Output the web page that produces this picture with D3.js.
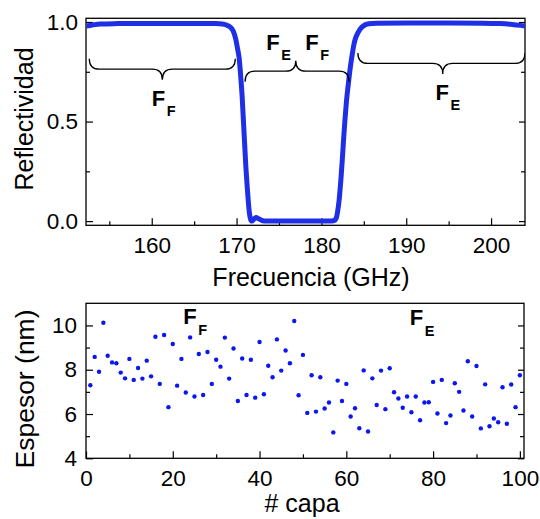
<!DOCTYPE html>
<html>
<head>
<meta charset="utf-8">
<script src="https://cdn.jsdelivr.net/npm/d3@7"></script>
<style>
  html, body { margin: 0; padding: 0; background: #fff; }
  svg { display: block; }
  text { font-family: "Liberation Sans", Arial, sans-serif; fill: #000; }
</style>
</head>
<body>
<svg id="chart" width="540" height="519"></svg>
<script>
// ---------- DATA ----------
// Top panel: reflectivity spectrum
const frequency = [152.3, 153, 154, 156, 158, 160, 162, 164, 166, 167.5, 168.3, 168.8, 169.3, 169.6, 169.9, 170.1, 170.3, 170.5, 170.65, 170.8, 170.96, 171.1, 171.24, 171.4, 171.5, 171.65, 171.8, 172.0, 172.3, 172.6, 173.0, 173.5, 175, 177, 179, 181, 181.5, 181.75, 181.9, 182.1, 182.3, 182.45, 182.6, 182.76, 182.95, 183.15, 183.4, 183.62, 183.8, 184.0, 184.3, 184.6, 185.0, 185.6, 186.5, 190, 195, 199, 201, 202.5, 203.5, 204.0];
const reflectivity = [0.980, 0.985, 0.990, 0.992, 0.993, 0.993, 0.993, 0.993, 0.993, 0.992, 0.990, 0.985, 0.973, 0.955, 0.915, 0.870, 0.820, 0.720, 0.630, 0.510, 0.380, 0.270, 0.180, 0.090, 0.045, 0.010, 0.000, 0.008, 0.018, 0.012, 0.003, 0.000, 0.000, 0.000, 0.000, 0.000, 0.003, 0.015, 0.045, 0.110, 0.210, 0.300, 0.400, 0.500, 0.600, 0.680, 0.770, 0.833, 0.880, 0.916, 0.945, 0.966, 0.982, 0.991, 0.994, 0.995, 0.995, 0.994, 0.992, 0.988, 0.983, 0.980];
const freqTicks = [160, 170, 180, 190, 200];
const freqMinorTicks = [155, 165, 175, 185, 195];
const reflTicks = [0.0, 0.5, 1.0];
const reflMinorTicks = [0.25, 0.75];

// Bottom panel: layer thickness
const layer = [1,2,3,4,5,6,7,8,9,10,11,12,13,14,15,16,17,18,19,20,21,22,23,24,25,26,27,28,29,30,31,32,33,34,35,36,37,38,39,40,41,42,43,44,45,46,47,48,49,50,51,52,53,54,55,56,57,58,59,60,61,62,63,64,65,66,67,68,69,70,71,72,73,74,75,76,77,78,79,80,81,82,83,84,85,86,87,88,89,90,91,92,93,94,95,96,97,98,99,100];
const thickness = [7.30, 8.58, 7.91, 10.12, 8.63, 8.33, 8.29, 7.87, 7.61, 8.49,
  7.54, 8.08, 7.60, 8.41, 7.70, 9.49, 7.36, 9.57, 6.31, 9.16,
  7.28, 8.49, 6.97, 9.46, 6.79, 8.71, 6.86, 8.80, 7.36, 8.45,
  8.14, 9.45, 7.60, 8.96, 6.59, 8.51, 6.86, 8.45, 6.74, 9.25,
  6.89, 8.18, 7.66, 9.37, 7.96, 8.87, 8.29, 10.20, 6.85, 8.67,
  6.05, 7.75, 6.11, 7.66, 6.25, 6.52, 5.17, 7.51, 6.59, 7.36,
  5.89, 6.26, 5.36, 7.97, 5.21, 7.61, 6.41, 7.96, 6.22, 8.07,
  6.98, 6.70, 6.28, 6.79, 6.08, 6.79, 5.72, 6.52, 6.53, 7.45,
  6.02, 7.54, 5.59, 5.93, 7.39, 7.00, 6.16, 8.38, 5.89, 8.17,
  5.35, 7.34, 5.45, 5.80, 5.63, 7.21, 5.56, 7.33, 6.31, 7.75];
const layerTicks = [0, 20, 40, 60, 80, 100];
const layerMinorTicks = [10, 30, 50, 70, 90];
const thickTicks = [4, 6, 8, 10];
const thickMinorTicks = [5, 7, 9];

// Annotations (braces in data units, labels)
const topBraces = [
  { x1: 152.64, x2: 169.85, xc: 161.25, dir: 1 },
  { x1: 171.0, x2: 183.26, xc: 176.98, dir: -1 },
  { x1: 184.3, x2: 204.0, xc: 194.3, dir: 1 }
];
const topLabels = [
  { main: "F", sub: "F", x: 160.0, y: 0.58 },
  { main: "F", sub: "E", x: 173.5, y: 0.86 },
  { main: "F", sub: "F", x: 178.1, y: 0.86 },
  { main: "F", sub: "E", x: 193.45, y: 0.61 }
];
const bottomLabels = [
  { main: "F", sub: "F", x: 22.4, y: 10.05 },
  { main: "F", sub: "E", x: 74.6, y: 10.0 }
];

// ---------- CHART ----------
const svg = d3.select("#chart");
const BLUE_LINE = "#1f2fe6";
const BLUE_DOT = "#0b17ee";
const TICK_FONT = "22.5px";
const TITLE_FONT = "25px";

// Top panel scales
const xTop = d3.scaleLinear().domain([152.25, 204.0]).range([86, 525]);
const yTop = d3.scaleLinear().domain([-0.021, 1.0186]).range([225.3, 18.3]);

// Bottom panel scales
const xBot = d3.scaleLinear().domain([0, 100.95]).range([86, 524]);
const yBot = d3.scaleLinear().domain([4, 11]).range([458.3, 303.3]);

function styleAxis(g, fontSize) {
  g.select(".domain").remove();
  g.selectAll(".tick line").attr("stroke", "#000").attr("stroke-width", 1.2);
  g.selectAll(".tick text").style("font-size", fontSize).attr("fill", "#000");
}

function drawPanel(x, y, opts) {
  const [x0, x1] = x.range();
  const [yb, yt] = y.range();
  const id = opts.id;

  svg.append("clipPath").attr("id", id)
    .append("rect").attr("x", x0).attr("y", yt).attr("width", x1 - x0).attr("height", yb - yt);

  // bottom axis (ticks inward)
  const gb = svg.append("g").attr("transform", `translate(0,${yb})`)
    .call(d3.axisBottom(x).tickValues(opts.xTicks).tickSize(-7).tickSizeOuter(0).tickPadding(12).tickFormat(opts.xFmt));
  styleAxis(gb, TICK_FONT);
  const gbm = svg.append("g").attr("transform", `translate(0,${yb})`)
    .call(d3.axisBottom(x).tickValues(opts.xMinor).tickSize(-4).tickSizeOuter(0).tickFormat(""));
  styleAxis(gbm, TICK_FONT);

  // left axis
  const gl = svg.append("g").attr("transform", `translate(${x0},0)`)
    .call(d3.axisLeft(y).tickValues(opts.yTicks).tickSize(-7).tickSizeOuter(0).tickPadding(opts.yPad).tickFormat(opts.yFmt));
  styleAxis(gl, TICK_FONT);
  const glm = svg.append("g").attr("transform", `translate(${x0},0)`)
    .call(d3.axisLeft(y).tickValues(opts.yMinor).tickSize(-4).tickSizeOuter(0).tickFormat(""));
  styleAxis(glm, TICK_FONT);

  // right axis (ticks inward, no labels)
  const gr = svg.append("g").attr("transform", `translate(${x1},0)`)
    .call(d3.axisRight(y).tickValues(opts.yTicks).tickSize(-6).tickSizeOuter(0).tickFormat(""));
  styleAxis(gr, TICK_FONT);
  const grm = svg.append("g").attr("transform", `translate(${x1},0)`)
    .call(d3.axisRight(y).tickValues(opts.yMinor).tickSize(-4).tickSizeOuter(0).tickFormat(""));
  styleAxis(grm, TICK_FONT);

  // frame
  svg.append("rect")
    .attr("x", x0).attr("y", yt).attr("width", x1 - x0).attr("height", yb - yt)
    .attr("fill", "none").attr("stroke", "#000").attr("stroke-width", 1.3);
}

drawPanel(xTop, yTop, {
  id: "clipTop", xTicks: freqTicks, xMinor: freqMinorTicks, xFmt: d3.format("d"),
  yTicks: reflTicks, yMinor: reflMinorTicks, yFmt: d3.format(".1f"), yPad: 8
});
drawPanel(xBot, yBot, {
  id: "clipBot", xTicks: layerTicks, xMinor: layerMinorTicks, xFmt: d3.format("d"),
  yTicks: thickTicks, yMinor: thickMinorTicks, yFmt: d3.format("d"), yPad: 9
});

// Reflectivity curve
const specData = frequency.map((f, i) => ({ f, r: reflectivity[i] }));
svg.append("path")
  .datum(specData)
  .attr("clip-path", "url(#clipTop)")
  .attr("fill", "none")
  .attr("stroke", BLUE_LINE)
  .attr("stroke-width", 5)
  .attr("stroke-linejoin", "round")
  .attr("d", d3.line().x(d => xTop(d.f)).y(d => yTop(d.r)).curve(d3.curveMonotoneX));

// Braces
function bracePath(x1, x2, xc, yLine, dir) {
  const r = 10;
  const yEnd = yLine - dir * 10.5;
  const yTip = yLine + dir * 10.5;
  return `M${x1},${yEnd} Q${x1},${yLine} ${x1 + r},${yLine} L${xc - r},${yLine} Q${xc},${yLine} ${xc},${yTip}` +
         ` Q${xc},${yLine} ${xc + r},${yLine} L${x2 - r},${yLine} Q${x2},${yLine} ${x2},${yEnd}`;
}
const braceY = [0.763, 0.753, 0.792];
svg.append("g").attr("clip-path", "url(#clipTop)")
  .selectAll("path").data(topBraces).join("path")
  .attr("fill", "none").attr("stroke", "#000").attr("stroke-width", 1.3)
  .attr("d", (d, i) => bracePath(xTop(d.x1), xTop(d.x2), xTop(d.xc), yTop(braceY[i]), d.dir));

// F labels with subscripts
function drawLabels(data, x, y) {
  const g = svg.append("g");
  data.forEach(d => {
    const t = g.append("text")
      .attr("x", x(d.x)).attr("y", y(d.y))
      .style("font-size", "22px").style("font-weight", "bold");
    t.append("tspan").text(d.main);
    t.append("tspan").text(d.sub)
      .attr("dx", 1.5).attr("dy", 10.5)
      .style("font-size", "14.5px");
  });
}
drawLabels(topLabels, xTop, yTop);
drawLabels(bottomLabels, xBot, yBot);

// Thickness points
svg.append("g").attr("clip-path", "url(#clipBot)")
  .selectAll("circle").data(layer).join("circle")
  .attr("cx", d => xBot(d))
  .attr("cy", (d, i) => yBot(thickness[i]))
  .attr("r", 2.2)
  .attr("fill", BLUE_DOT);

// Axis titles
svg.append("text").attr("x", 311).attr("y", 286).attr("text-anchor", "middle")
  .style("font-size", TITLE_FONT).text("Frecuencia (GHz)");
svg.append("text").attr("x", 302).attr("y", 512).attr("text-anchor", "middle")
  .style("font-size", TITLE_FONT).text("# capa");
svg.append("text").attr("transform", "translate(33,119) rotate(-90)").attr("text-anchor", "middle")
  .style("font-size", TITLE_FONT).text("Reflectividad");
svg.append("text").attr("transform", "translate(34,389) rotate(-90)").attr("text-anchor", "middle")
  .style("font-size", "26.5px").text("Espesor (nm)");
</script>
</body>
</html>
